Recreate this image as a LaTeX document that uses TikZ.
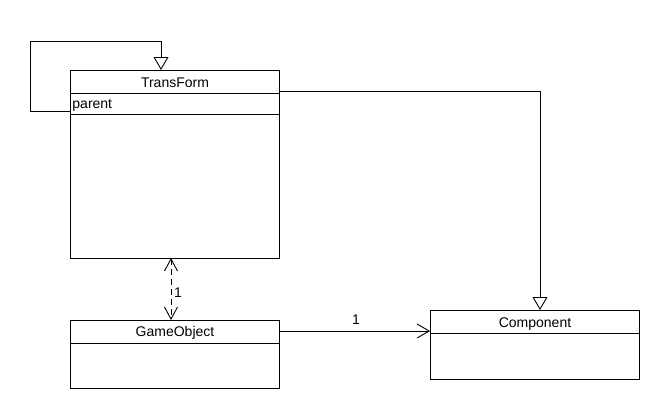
\documentclass[tikz,border=0pt]{standalone}
\usepackage{fontspec}
\setmainfont{Liberation Sans}
\usetikzlibrary{arrows.meta}
\begin{document}
\begin{tikzpicture}[x=1pt,y=-1pt,
  line width=0.9pt,
  classbox/.style={draw, rectangle, anchor=north west, minimum width=209pt, inner sep=0pt},
  label/.style={inner sep=0pt, anchor=base, font=\fontsize{14}{16}\selectfont},
  inherit/.style={-{Triangle[open,length=13pt,width=15pt]}},
  assoc/.style={-{Straight Barb[length=12pt,width=14pt]}},
  depend/.style={{Straight Barb[length=12pt,width=13pt]}-{Straight Barb[length=12pt,width=13pt]}, dash pattern=on 6pt off 4pt}
]
\useasboundingbox (0,0) rectangle (660,410);

% TransForm class
\node[classbox, minimum height=188pt] (tf) at (70,70) {};
\node[label] (tfname) at (175,87) {TransForm};
\draw (70,93) -- (279,93);
\node[label, anchor=base west] (tfparent) at (72,108) {parent};
\draw (70,114) -- (279,114);

% GameObject class
\node[classbox, minimum height=68pt] (go) at (70,320) {};
\node[label] (goname) at (175,336.5) {GameObject};
\draw (70,343) -- (279,343);

% Component class
\node[classbox, minimum height=69pt] (comp) at (430,310) {};
\node[label] (compname) at (535,327) {Component};
\draw (430,333) -- (639,333);

% attachment points
\coordinate (tfloop) at (70,111);
\coordinate (tftop) at (161,70);
\coordinate (tfright) at (279,91);
\coordinate (comptop) at (540,310);
\coordinate (tfbottom) at (171,258);
\coordinate (gotop) at (171,320);
\coordinate (goright) at (279,331);
\coordinate (compleft) at (430,331);

% parent: TransForm refers to itself
\draw[inherit] (tfloop) -- (30,111) -- (30,41) -- (161,41) -- (tftop);

% TransForm generalises to Component
\draw[inherit] (tfright) -- (540,91) -- (comptop);

% TransForm <-> GameObject
\draw[depend] (tfbottom) -- (gotop);
\node[label] (m1) at (178,297) {1};

% GameObject -> Component
\draw[assoc] (goright) -- (compleft);
\node[label] (m2) at (356,324) {1};
\end{tikzpicture}
\end{document}
